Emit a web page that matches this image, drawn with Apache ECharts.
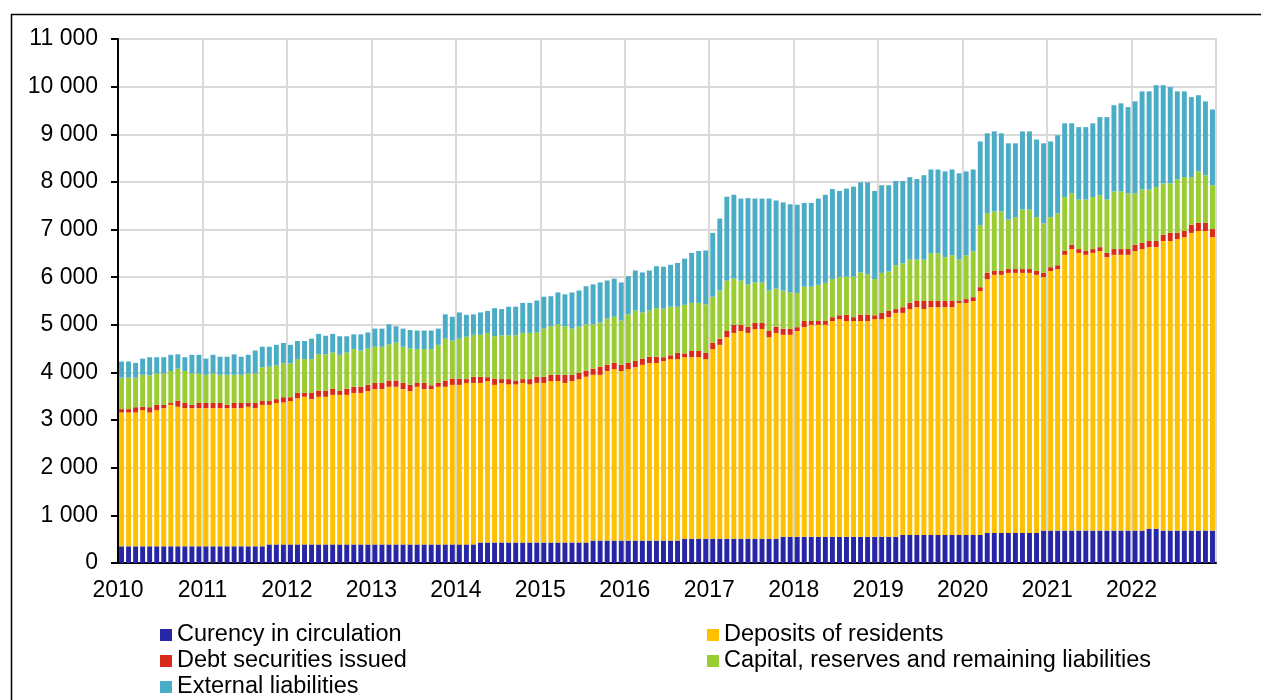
<!DOCTYPE html>
<html>
<head>
<meta charset="utf-8">
<script src="https://cdn.jsdelivr.net/npm/echarts@6/dist/echarts.min.js"></script>
<style>
  html, body { margin: 0; padding: 0; background: #fff; }
  #chart { width: 1261px; height: 700px; }
</style>
</head>
<body>
<div id="chart"></div>
<script>
// monthly, Jan 2010 .. Dec 2022
const years = [2010, 2011, 2012, 2013, 2014, 2015, 2016, 2017, 2018, 2019, 2020, 2021, 2022];

const currency = [
  350, 350, 350, 350, 350, 350, 350, 350, 350, 350, 350, 350,
  350, 350, 350, 350, 350, 350, 350, 350, 350, 390, 390, 390,
  390, 390, 390, 390, 390, 390, 390, 390, 390, 390, 390, 390,
  390, 390, 390, 390, 390, 390, 390, 390, 390, 390, 390, 390,
  390, 390, 390, 430, 430, 430, 430, 430, 430, 430, 430, 430,
  430, 430, 430, 430, 430, 430, 430, 470, 470, 470, 470, 470,
  470, 470, 470, 470, 470, 470, 470, 470, 510, 510, 510, 510,
  510, 510, 510, 510, 510, 510, 510, 510, 510, 510, 550, 550,
  550, 550, 550, 550, 550, 550, 550, 550, 550, 550, 550, 550,
  550, 550, 550, 590, 590, 590, 590, 590, 590, 590, 590, 590,
  590, 590, 590, 630, 630, 630, 630, 630, 630, 630, 630, 680,
  680, 680, 680, 680, 680, 680, 680, 680, 680, 680, 680, 680,
  680, 680, 720, 720, 680, 680, 680, 680, 680, 680, 680, 680
];
const deposits = [
  2810, 2810, 2810, 2860, 2810, 2860, 2900, 2970, 2930, 2900, 2900, 2900,
  2900, 2900, 2900, 2900, 2900, 2900, 2930, 2900, 2970, 2930, 2970, 2980,
  3010, 3070, 3100, 3050, 3100, 3100, 3140, 3140, 3140, 3180, 3180, 3220,
  3260, 3260, 3310, 3310, 3260, 3220, 3310, 3260, 3260, 3310, 3310, 3350,
  3350, 3390, 3390, 3350, 3390, 3310, 3350, 3320, 3320, 3350, 3320, 3350,
  3350, 3390, 3390, 3350, 3390, 3430, 3480, 3480, 3480, 3560, 3600, 3560,
  3600, 3640, 3690, 3730, 3730, 3770, 3810, 3810, 3810, 3810, 3810, 3770,
  3980, 4070, 4230, 4320, 4360, 4320, 4400, 4400, 4230, 4320, 4240, 4240,
  4320, 4400, 4450, 4450, 4450, 4530, 4570, 4530, 4530, 4530, 4530, 4570,
  4570, 4610, 4700, 4660, 4740, 4780, 4740, 4780, 4780, 4780, 4780, 4870,
  4870, 4910, 5120, 5330, 5420, 5420, 5460, 5460, 5460, 5460, 5420, 5320,
  5450, 5490, 5790, 5910, 5830, 5790, 5830, 5870, 5740, 5790, 5790, 5790,
  5870, 5910, 5910, 5910, 6080, 6080, 6120, 6160, 6250, 6290, 6290, 6160
];
const debt = [
  70, 70, 110, 70, 110, 110, 70, 40, 130, 110, 70, 110,
  110, 110, 110, 70, 110, 110, 80, 110, 80, 80, 80, 110,
  80, 110, 80, 130, 130, 130, 130, 80, 130, 130, 130, 130,
  130, 130, 130, 130, 130, 130, 80, 130, 80, 80, 130, 130,
  130, 80, 130, 130, 80, 130, 80, 110, 70, 80, 110, 130,
  130, 130, 130, 170, 130, 130, 130, 130, 170, 130, 130, 130,
  130, 130, 130, 130, 130, 80, 80, 130, 80, 130, 130, 130,
  130, 130, 130, 170, 130, 130, 130, 130, 130, 130, 130, 130,
  80, 130, 80, 80, 80, 80, 80, 130, 80, 130, 130, 80,
  130, 130, 80, 120, 130, 130, 170, 130, 130, 130, 130, 40,
  80, 80, 80, 130, 80, 80, 80, 80, 80, 80, 80, 90,
  80, 80, 80, 90, 80, 80, 80, 80, 90, 120, 120, 120,
  130, 130, 130, 130, 130, 170, 130, 130, 170, 170, 170, 170
];
const capital = [
  660, 660, 620, 670, 670, 660, 660, 670, 670, 670, 660, 620,
  590, 620, 590, 630, 590, 590, 620, 620, 710, 720, 710, 710,
  710, 710, 710, 710, 760, 760, 760, 760, 760, 790, 760, 760,
  760, 760, 760, 800, 760, 760, 710, 710, 760, 800, 880, 800,
  840, 890, 880, 880, 930, 890, 920, 920, 960, 970, 970, 930,
  1010, 1020, 1060, 1020, 970, 970, 970, 930, 930, 970, 970, 930,
  1020, 1060, 970, 970, 1020, 1020, 1020, 970, 1020, 1010, 1010, 1020,
  970, 1010, 1060, 970, 930, 890, 850, 850, 850, 800, 800, 760,
  720, 720, 720, 760, 800, 800, 800, 800, 850, 890, 850, 760,
  840, 830, 920, 920, 910, 870, 870, 1000, 1000, 920, 960, 870,
  920, 960, 1300, 1250, 1250, 1250, 1040, 1090, 1250, 1250, 1130, 1040,
  1050, 1090, 1130, 1080, 1040, 1080, 1090, 1090, 1120, 1210, 1210, 1170,
  1080, 1120, 1080, 1130, 1080, 1040, 1120, 1130, 1000, 1080, 1000, 920
];
const external = [
  340, 340, 310, 340, 380, 340, 340, 340, 300, 290, 390, 390,
  340, 390, 380, 380, 430, 380, 390, 480, 430, 420, 430, 430,
  390, 380, 380, 430, 430, 390, 390, 390, 340, 310, 340, 340,
  380, 380, 420, 340, 380, 390, 390, 390, 390, 340, 510, 500,
  550, 460, 430, 470, 460, 590, 550, 600, 600, 630, 630, 670,
  670, 630, 670, 670, 760, 760, 800, 840, 840, 800, 800, 800,
  800, 840, 840, 840, 880, 880, 880, 920, 970, 1050, 1090, 1130,
  1340, 1510, 1760, 1760, 1720, 1810, 1760, 1760, 1930, 1850, 1850, 1850,
  1850, 1760, 1760, 1810, 1850, 1890, 1810, 1850, 1890, 1890, 1930, 1850,
  1840, 1810, 1770, 1730, 1730, 1690, 1770, 1760, 1760, 1800, 1800, 1810,
  1760, 1720, 1760, 1680, 1680, 1640, 1600, 1550, 1640, 1640, 1630, 1680,
  1590, 1640, 1550, 1470, 1520, 1520, 1550, 1640, 1730, 1810, 1850, 1810,
  1930, 2060, 2060, 2140, 2060, 2020, 1850, 1800, 1680, 1600, 1550, 1590
];

const seriesNames = [
  "Curency in circulation",
  "Deposits of residents",
  "Debt securities issued",
  "Capital, reserves and remaining liabilities",
  "External liabilities",
];
const colors = ["#2626a6", "#ffc000", "#d92a1c", "#9acd32", "#4bacc6"];

const months = [];
years.forEach((y) => {
  for (let m = 1; m <= 12; m++) months.push(y + "-" + (m < 10 ? "0" + m : m));
});

const font = "'Liberation Sans', Arial, sans-serif";
const chart = echarts.init(document.getElementById("chart"));

const legendText = { fontSize: 23.5, lineHeight: 26, color: "#000", fontFamily: font };

const option = {
  animation: false,
  color: colors,
  textStyle: { fontFamily: font },
  graphic: [
    {
      type: "rect",
      left: 9,
      top: 12,
      shape: { width: 1300, height: 720 },
      style: { fill: "none", stroke: "#000", lineWidth: 1.5 },
      z: 100,
    },
  ],
  grid: {
    left: 118,
    right: 45,
    top: 39,
    bottom: 137,
    show: true,
    borderColor: "#d9d9d9",
    borderWidth: 2,
  },
  legend: [
    {
      left: 160,
      top: 622,
      orient: "vertical",
      padding: 0,
      itemGap: 0,
      itemWidth: 12,
      itemHeight: 12,
      icon: "rect",
      selectedMode: false,
      data: [seriesNames[0], seriesNames[2], seriesNames[4]],
      textStyle: legendText,
    },
    {
      left: 707,
      top: 622,
      orient: "vertical",
      padding: 0,
      itemGap: 0,
      itemWidth: 12,
      itemHeight: 12,
      icon: "rect",
      selectedMode: false,
      data: [seriesNames[1], seriesNames[3]],
      textStyle: legendText,
    },
  ],
  xAxis: {
    type: "category",
    data: months,
    boundaryGap: true,
    axisLine: { lineStyle: { color: "#000", width: 2 } },
    axisTick: {
      interval: 11,
      length: 6,
      lineStyle: { color: "#000", width: 2 },
    },
    axisLabel: {
      interval: 11,
      margin: 16,
      fontSize: 23,
      color: "#000",
      padding: [0, 7, 0, 0],
      formatter: (v) => v.slice(0, 4),
    },
    splitLine: {
      show: true,
      interval: 11,
      lineStyle: { color: "#d9d9d9", width: 2 },
    },
  },
  yAxis: {
    type: "value",
    min: 0,
    max: 11000,
    interval: 1000,
    axisLine: { show: true, lineStyle: { color: "#000", width: 2 } },
    axisTick: { show: true, length: 7, lineStyle: { color: "#000", width: 2 } },
    axisLabel: {
      margin: 20,
      fontSize: 23,
      color: "#000",
      formatter: (v) => String(v).replace(/\B(?=(\d{3})+(?!\d))/g, " "),
    },
    splitLine: { lineStyle: { color: "#d9d9d9", width: 2 } },
  },
  series: [currency, deposits, debt, capital, external].map((d, i) => ({
    name: seriesNames[i],
    type: "bar",
    stack: "total",
    barCategoryGap: "30%",
    data: d,
  })),
};

chart.setOption(option);
</script>
</body>
</html>
